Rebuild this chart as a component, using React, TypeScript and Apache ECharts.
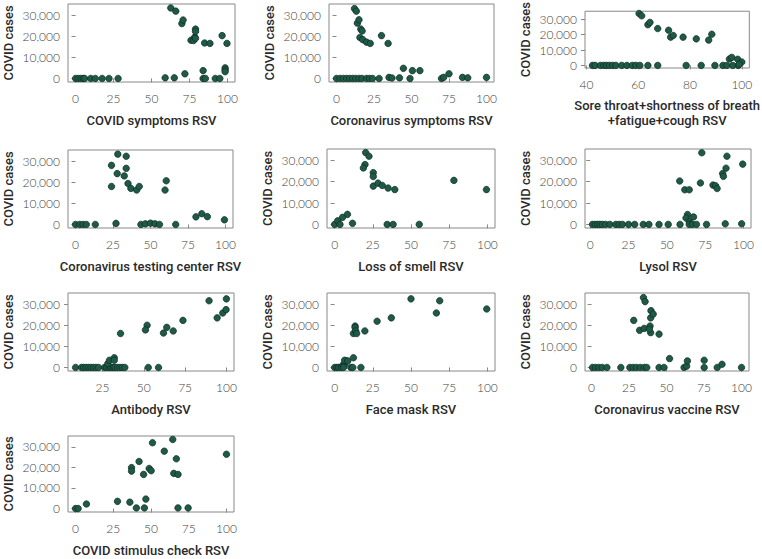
import React, { useEffect, useRef } from "react";
import * as echarts from "echarts";

// ---- data: [RSV, COVID cases] ----
const covidSymptoms: number[][] = [
  [0, 0], [1.7, 0], [3.5, 0], [5, 0], [6, 0], [10, 0], [13, 0], [17.5, 0], [22, 0], [28, 0],
  [59, 300], [65, 300], [72, 2200], [84, 3700], [84, 0], [85.5, 0], [92, 0], [95, 0],
  [62.7, 33400], [66, 31900], [70, 26000], [70.8, 27700], [76, 18100], [77.7, 18000], [78.5, 19600],
  [79, 23400], [79, 22300], [79, 19000], [85, 16800], [88.5, 16600], [96.5, 20300], [99.7, 16600],
  [98.5, 5000], [98.5, 4100], [98.5, 3200],
];
const coronavirusSymptoms: number[][] = [
  [0, 0], [2.4, 0], [4.5, 0], [6.7, 0], [8.7, 0], [10.8, 0], [12.8, 0], [15, 0], [17, 0], [20, 0],
  [22, 0], [24, 0], [28.4, 0], [35, 500], [37, 200], [42, 300], [49, 0], [70, 0], [71.4, 500],
  [84, 500], [87.5, 300], [100, 500],
  [12, 33100], [13.2, 31900], [13.9, 26200], [15, 27800], [16.2, 23400], [17.1, 22500], [15.6, 19400],
  [17.5, 18400], [20, 17200], [22.5, 16600], [30, 20300], [34.4, 16600], [44.6, 4800], [50.6, 3700],
  [55.6, 3700], [75, 2200],
];
const soreThroat: number[][] = [
  [42.3, 0], [43.3, 0], [45.4, 0], [46.7, 0], [47.7, 0], [48.8, 0], [50.1, 0], [51.3, 0], [53.6, 0],
  [55.6, 0], [57.7, 0], [59, 0], [60.6, 0], [63.7, 0], [67.5, 0], [78.5, 0], [84.3, 0], [89.6, 0],
  [92.7, 0], [94.2, 0], [96.5, 0], [98.6, 0],
  [60.3, 33800], [61.3, 32300], [63.7, 26500], [64.5, 28000], [67.5, 24000], [71.7, 22900],
  [72.5, 18400], [73.5, 19500], [77.3, 18400], [82.4, 17300], [87.2, 16500], [88.4, 20300],
  [95.2, 4200], [96.1, 5200], [98.4, 4000], [100, 2200], [99, 800],
];
const testingCenter: number[][] = [
  [0, 0], [2.8, 0], [5, 0], [7.2, 0], [13.2, 0], [27, 500], [43.6, 0], [46.6, 300], [50, 600],
  [53, 300], [56, 0], [66.8, 0],
  [24, 28000], [24, 18000], [28.2, 33300], [27.8, 24100], [32.5, 23000], [33.8, 32300], [33.8, 26600],
  [35, 19400], [36.9, 17100], [40.8, 16300], [42.5, 18000], [59.7, 16300], [60.5, 20700],
  [80.3, 3600], [84.2, 5100], [87.9, 3700], [99.3, 2200],
];
const lossOfSmell: number[][] = [
  [0, 0], [2, 1700], [3.5, 0], [5.2, 3300], [8.4, 4700], [11.7, 500], [34.4, 0], [38.3, 0], [55.4, 0],
  [20.3, 33600], [22.5, 31900], [19.9, 28000], [18.8, 26400], [25.3, 24200], [25.3, 22400],
  [25.3, 17900], [28.4, 19300], [31.2, 18200], [35, 17000], [39.4, 16300], [78.1, 20600], [99.4, 16300],
];
const lysol: number[][] = [
  [1.5, 0], [3.2, 0], [4.8, 0], [6.3, 0], [8, 0], [10, 0], [12.8, 0], [16.7, 0], [18.8, 0], [21, 0],
  [25, 0], [29, 0], [34.6, 0], [38.3, 0], [44.9, 0], [50.9, 0], [58.6, 0], [63.5, 4600], [62.5, 3000],
  [64.6, 1300], [67.4, 3500], [64.6, 0], [66.7, 0], [69.3, 0], [75.9, 0], [88.1, 300], [98.8, 300],
  [72.8, 33500], [89.2, 31900], [99.5, 28200], [88.6, 26300], [86.4, 23800], [86.9, 22500],
  [58.4, 20300], [71.9, 19400], [80.1, 18400], [81.8, 18100], [82.8, 16800], [61.7, 16200], [64.6, 16200],
];
const antibody: number[][] = [
  [8.7, 0], [12.3, 0], [13.5, 0], [15, 0], [16.5, 0], [18, 0], [19.5, 0], [21, 0], [22.6, 0],
  [26.2, 0], [27.5, 0], [29, 0], [30.1, 0], [31.5, 0], [32.5, 0], [34, 0], [35.5, 0], [37, 0],
  [38.5, 0], [52.7, 0], [58.9, 0],
  [28.2, 1800], [29.2, 3400], [32.1, 4600], [32.1, 3400], [35.9, 16100], [52, 20000], [51, 17800],
  [63.9, 19000], [61.9, 16300], [67.8, 17300], [73.7, 22300], [89.5, 31600], [94.4, 23500],
  [97.8, 25800], [99.8, 27400], [100, 32500],
];
const faceMask: number[][] = [
  [0, 0], [1.5, 0], [2.6, 0], [4.3, 0], [5.4, 1100], [6.5, 1400], [5.8, 0], [7.5, 3100], [6.5, 3400],
  [8.6, 3100], [10.6, 0], [11.9, 0], [12.3, 4600], [17.2, 0],
  [12.3, 16100], [13.4, 19600], [13.4, 18900], [13.8, 17300], [14.4, 16100], [19.8, 17300],
  [27.8, 21900], [37.1, 23500], [50, 32500], [66.6, 25800], [68.8, 31600], [99.6, 27700],
];
const vaccine: number[][] = [
  [0.6, 0], [2.6, 0], [4.8, 0], [7.1, 0], [10.2, 0], [19.5, 0], [25.5, 0], [27.7, 0], [29.9, 0],
  [32.5, 0], [35.1, 0], [36.8, 0], [45, 0], [48.3, 0], [61.7, 0], [63.4, 600], [63.9, 3100],
  [75.1, 3400], [75.1, 0], [83.8, 0], [87, 1500], [100, 0],
  [34.6, 33100], [35.7, 31200], [28.1, 22300], [32, 17600], [35.1, 18500], [39, 19600], [39.4, 16500],
  [38.5, 18100], [39.4, 23500], [39.6, 26900], [41.1, 25300], [45, 15800], [52, 4200],
];
const stimulusCheck: number[][] = [
  [0, 0], [1.7, 0], [7.2, 2200], [27.8, 3500], [36, 3100], [40.3, 300], [45.6, 300], [46.6, 4600],
  [67.9, 300], [74.6, 300],
  [51, 32000], [64.4, 33600], [58.8, 27900], [66.8, 24200], [42.1, 22900], [37.1, 19900],
  [37.1, 18200], [48.8, 19500], [50.1, 18400], [45.1, 16600], [65.1, 17100], [67.9, 16600], [100, 26400],
];

// ---- tick labels ----
const xTicks100 = [0, 25, 50, 75, 100];
const xTicks25 = [25, 50, 75, 100];
const xTicks40 = [40, 60, 80, 100];
const yTicks = [0, 10000, 20000, 30000];
const yTitle = "COVID cases";

const titles = [
  "COVID symptoms RSV",
  "Coronavirus symptoms RSV",
  "Sore throat+shortness of breath\n+fatigue+cough RSV",
  "Coronavirus testing center RSV",
  "Loss of smell RSV",
  "Lysol RSV",
  "Antibody RSV",
  "Face mask RSV",
  "Coronavirus vaccine RSV",
  "COVID stimulus check RSV",
];
const panelData = [
  covidSymptoms, coronavirusSymptoms, soreThroat, testingCenter, lossOfSmell,
  lysol, antibody, faceMask, vaccine, stimulusCheck,
];
const panelTicks = [
  xTicks100, xTicks100, xTicks40, xTicks100, xTicks100,
  xTicks100, xTicks25, xTicks100, xTicks100, xTicks100,
];
const xLimits = [
  [-5, 105], [-5, 105], [39.4, 102.9], [-5, 105], [-5, 105],
  [-3.4, 104.9], [4.1, 104.6], [-5, 105], [-4.4, 105], [-5, 105],
];
const yLimits = [-1680, 35280];

// layout (px)
const grids = [
  { left: 67, top: 4, width: 168, height: 78 },
  { left: 329, top: 4, width: 165, height: 78 },
  { left: 585, top: 4, width: 168, height: 64 },
  { left: 67, top: 150, width: 166, height: 78 },
  { left: 327, top: 149, width: 168, height: 79 },
  { left: 585, top: 149, width: 166, height: 79 },
  { left: 67, top: 293, width: 167, height: 78 },
  { left: 327, top: 293, width: 168, height: 78 },
  { left: 585, top: 293, width: 164, height: 78 },
  { left: 67, top: 436, width: 167, height: 77 },
];

const fmt = (v: number) => Number(v).toLocaleString("en-US");

export default function App() {
  const ref = useRef<HTMLDivElement>(null);
  useEffect(() => {
    if (!ref.current) return;
    const chart = echarts.init(ref.current, undefined, { renderer: "svg" });
    const titleStyle = {
      fontFamily: "Roboto",
      fontWeight: 500,
      fontSize: 13,
      color: "#2a2a2a",
      lineHeight: 15,
    };
    const labelStyle = {
      fontFamily: "Lato",
      fontWeight: 300,
      fontSize: 12,
      color: "#444",
    };
    const option: any = {
      animation: false,
      backgroundColor: "#fff",
      grid: grids.map((g) => ({
        ...g,
        show: true,
        borderColor: "#888",
        borderWidth: 1,
        backgroundColor: "transparent",
        containLabel: false,
      })),
      xAxis: titles.map((t, i) => ({
        type: "value",
        gridIndex: i,
        min: xLimits[i][0],
        max: xLimits[i][1],
        name: t,
        nameLocation: "middle",
        nameGap: i === 2 ? 30 : 31,
        nameTextStyle: { ...titleStyle, verticalAlign: "top" },
        axisLine: { show: false },
        splitLine: { show: false },
        axisTick: {
          show: true,
          length: 4,
          lineStyle: { color: "#888" },
          customValues: panelTicks[i],
        },
        axisLabel: {
          ...labelStyle,
          margin: 10,
          customValues: panelTicks[i],
          formatter: fmt,
        },
      })),
      yAxis: titles.map((_, i) => ({
        type: "value",
        gridIndex: i,
        min: yLimits[0],
        max: yLimits[1],
        name: yTitle,
        nameLocation: "middle",
        nameGap: 52,
        nameRotate: 90,
        nameTextStyle: titleStyle,
        axisLine: { show: false },
        splitLine: { show: false },
        axisTick: {
          show: true,
          length: 4,
          lineStyle: { color: "#888" },
          customValues: yTicks,
        },
        axisLabel: {
          ...labelStyle,
          margin: 8,
          customValues: yTicks,
          formatter: fmt,
        },
      })),
      series: panelData.map((d, i) => ({
        type: "scatter",
        xAxisIndex: i,
        yAxisIndex: i,
        data: d,
        symbolSize: 6.5,
        itemStyle: {
          color: "#1f5a48",
          borderColor: "#0a2a20",
          borderWidth: 0.7,
          opacity: 1,
        },
      })),
    };
    chart.setOption(option);
    return () => chart.dispose();
  }, []);
  return (
    <div
      ref={ref}
      style={{ position: "fixed", left: 0, top: 0, width: 762, height: 559, background: "#fff" }}
    />
  );
}
